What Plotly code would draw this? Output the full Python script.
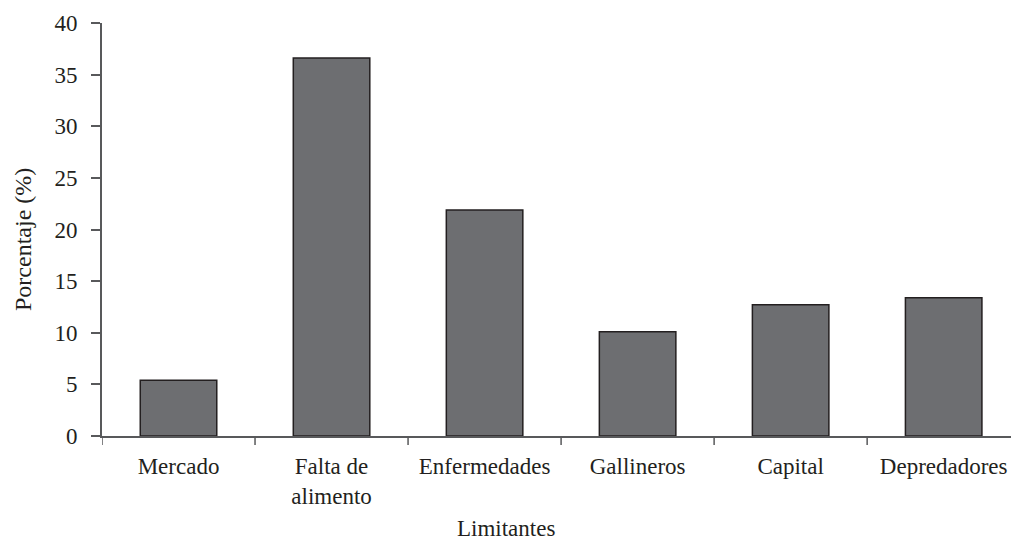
import plotly.graph_objects as go

categories = ["Mercado", "Falta de<br>alimento", "Enfermedades", "Gallineros", "Capital", "Depredadores"]
values = [5.4, 36.6, 21.9, 10.1, 12.7, 13.4]
y_ticks = [0, 5, 10, 15, 20, 25, 30, 35, 40]

font_family = "Liberation Serif"
text_color = "#231f20"
axis_color = "#58595b"

fig = go.Figure(go.Bar(
    x=list(range(len(categories))),
    y=values,
    marker=dict(color="#6d6e71", line=dict(color="#231f20", width=1.5)),
    width=0.5,
))

fig.update_layout(
    width=1011, height=544,
    margin=dict(l=102, r=0, t=23, b=108),
    paper_bgcolor="white", plot_bgcolor="white",
    font=dict(family=font_family, size=23, color=text_color),
    showlegend=False,
    xaxis=dict(
        range=[-0.5, 5.44],
        tickmode="array",
        tickvals=list(range(len(categories))),
        ticktext=categories,
        showline=True, linecolor=axis_color, linewidth=2,
        ticks="", showgrid=False, zeroline=False,
        ticklabelstandoff=8,
        tickfont=dict(size=23),
        automargin=False,
    ),
    yaxis=dict(
        range=[0, 40],
        tickmode="array",
        tickvals=y_ticks,
        showline=True, linecolor=axis_color, linewidth=2,
        ticks="outside", ticklen=9, tickwidth=1.5, tickcolor=axis_color,
        showgrid=False, zeroline=False,
        ticklabelstandoff=9,
        tickfont=dict(size=23),
        automargin=False,
    ),
    annotations=[
        dict(text="Limitantes", xref="paper", yref="paper", x=(506 - 102) / 909, y=-(528 - 436) / 413,
             xanchor="center", yanchor="middle", showarrow=False, font=dict(size=23)),
        dict(text="Porcentaje (%)", xref="paper", yref="paper", x=-(102 - 23) / 909, y=(436 - 240) / 413,
             xanchor="center", yanchor="middle", showarrow=False, textangle=-90, font=dict(size=24)),
    ],
)

# Category boundary tick marks on x axis
for b in [-0.5, 0.5, 1.5, 2.5, 3.5, 4.5]:
    fig.add_shape(type="line", xref="x", yref="paper", x0=b, x1=b, y0=0, y1=-0.022,
                  line=dict(color=axis_color, width=1.5))

fig.write_html("out.html", config={"displayModeBar": False},
               post_script="document.body.style.margin='0';document.body.style.overflow='hidden';")
